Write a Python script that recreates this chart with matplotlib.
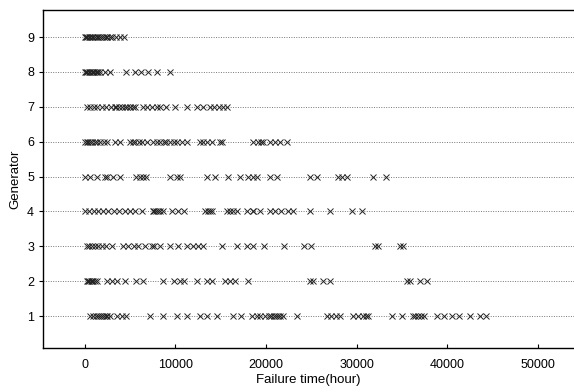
import matplotlib
matplotlib.use("Agg")
import matplotlib.pyplot as plt

plt.rcParams["font.family"] = ["Liberation Sans", "DejaVu Sans"]

generators = [1, 2, 3, 4, 5, 6, 7, 8, 9]

g1 = [550, 900, 1200, 1500, 1700, 1900, 2100, 2300, 2500, 2800, 3600, 4100, 4600,
      7200, 8600, 10200, 11300, 12700, 13500, 14600, 16400, 17300, 18500, 19000,
      19300, 19900, 20300, 20600, 20900, 21100, 21300, 21600, 21900, 23400,
      26700, 27200, 27700, 28200, 29600, 30200, 30700, 31000, 31300, 33900, 35000,
      36200, 36500, 36800, 37100, 37400, 38900, 39700, 40500, 41300, 42500, 43600, 44300]
g2 = [200, 350, 500, 650, 800, 950, 1100, 1300, 2500, 3000, 3600, 4400, 5700, 6400,
      8600, 9900, 10500, 11000, 12400, 13500, 14100, 15500, 16000, 16600, 18000,
      24900, 25200, 26300, 27100, 35600, 35900, 37000, 37800]
g3 = [200, 500, 800, 1100, 1500, 1900, 2400, 3000, 4200, 4800, 5400, 5900, 6600, 7400,
      7700, 8300, 9400, 10300, 11300, 11900, 12500, 13000, 15200, 16800, 17900, 18600,
      19800, 22000, 24200, 25000, 32000, 32400, 34800, 35100]
g4 = [0, 500, 1000, 1500, 2000, 2600, 3200, 3800, 4400, 5000, 5600, 6300, 7500, 7700,
      7900, 8100, 8300, 8600, 9600, 10300, 11000, 13300, 13600, 13800, 14000, 15700,
      16000, 16400, 16800, 17900, 18600, 18600, 19300, 20400, 21000, 21700, 22400, 23000,
      24900, 27100, 29500, 30600]
g5 = [0, 550, 1300, 2200, 2500, 3100, 3900, 5700, 6100, 6400, 6800, 9400, 10200, 10500,
      13500, 14400, 15800, 17100, 18000, 18600, 19000, 20400, 21200, 24900, 25600,
      28000, 28400, 29000, 31800, 33200]
g6 = [0, 200, 400, 600, 850, 1100, 1300, 1700, 2100, 2500, 3300, 3900, 5000, 5300,
      5600, 6000, 6300, 6900, 7500, 8000, 8300, 8700, 9000, 9400, 9800, 10200, 10700,
      11300, 12700, 13100, 13500, 14000, 14900, 15200, 18600, 19100, 19400, 19700,
      20400, 21000, 21600, 22300]
g7 = [200, 600, 1000, 1400, 1900, 2400, 2900, 3300, 3500, 3800, 4100, 4400, 4700, 5000,
      5300, 5500, 6400, 6900, 7400, 8000, 8300, 9000, 10000, 11300, 12400, 13000,
      13800, 14300, 14800, 15300, 15700]
g8 = [0, 150, 300, 450, 600, 750, 900, 1050, 1200, 1350, 1500, 1700, 2200, 2800,
      4600, 5500, 6200, 7000, 8000, 9400]
g9 = [0, 150, 300, 450, 600, 750, 900, 1100, 1300, 1500, 1700, 1900, 2100, 2300, 2500,
      2800, 3000, 3500, 3900, 4300]

failures = [g1, g2, g3, g4, g5, g6, g7, g8, g9]

x_ticks = [0, 10000, 20000, 30000, 40000, 50000]

fig = plt.figure(figsize=(5.74, 3.92), dpi=100)
ax = fig.add_axes([0.075, 0.112, 0.925, 0.862])

xmin, xmax = -4600, 54000
for g, times in zip(generators, failures):
    ax.plot([xmin, xmax], [g, g], linestyle=(0, (1, 1.5)), color="#777777",
            linewidth=0.7, zorder=1)
    ax.plot(times, [g] * len(times), linestyle="none", marker="x", color="#222222",
            markersize=4, markeredgewidth=0.7, zorder=2)

ax.set_xlim(xmin, xmax)
ax.set_ylim(0.08, 9.77)
ax.set_xticks(x_ticks)
ax.set_xticklabels([str(t) for t in x_ticks])
ax.set_yticks(generators)
ax.tick_params(axis="x", direction="in", length=3, labelsize=9, pad=8)
ax.tick_params(axis="y", direction="out", length=3, labelsize=9)
ax.set_xlabel("Failure time(hour)", fontsize=9.5, labelpad=2)
ax.set_ylabel("Generator", fontsize=9.5, labelpad=4)
ax.spines["right"].set_visible(False)
for s in ["left", "bottom", "top"]:
    ax.spines[s].set_linewidth(1.0)

fig.savefig("out.png", dpi=100)
